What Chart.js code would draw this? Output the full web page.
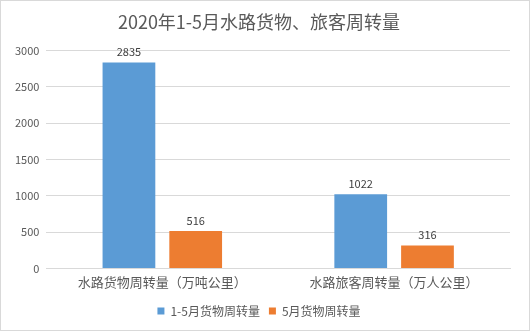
<!DOCTYPE html>
<html>
<head>
<meta charset="utf-8">
<script src="https://cdn.jsdelivr.net/npm/chart.js@4/dist/chart.umd.min.js"></script>
<style>
  html, body { margin: 0; padding: 0; background: #fff; }
  #wrap { width: 528px; height: 329px; border: 1px solid #d9d9d9; position: relative; }
</style>
</head>
<body>
<div id="wrap"><canvas id="chart"></canvas></div>
<script>
// chart data
const categories = ['水路货物周转量（万吨公里）', '水路旅客周转量（万人公里）'];
const seriesNames = ['1-5月货物周转量', '5月货物周转量'];
const totalJanMay = [2835, 1022];
const mayOnly = [516, 316];
const yTicks = [0, 500, 1000, 1500, 2000, 2500, 3000];

const fontFamily = '"Noto Sans CJK SC", "Liberation Sans", sans-serif';

// value labels above each bar
const barLabels = {
  id: 'barLabels',
  afterDatasetsDraw(chart) {
    const ctx = chart.ctx;
    ctx.save();
    ctx.font = '11px ' + fontFamily;
    ctx.fillStyle = '#404040';
    ctx.textAlign = 'center';
    ctx.textBaseline = 'bottom';
    chart.data.datasets.forEach((ds, i) => {
      chart.getDatasetMeta(i).data.forEach((bar, j) => {
        ctx.fillText(ds.data[j], bar.x, bar.y - 5);
      });
    });
    ctx.restore();
  }
};

new Chart(document.getElementById('chart'), {
  type: 'bar',
  data: {
    labels: categories,
    datasets: [
      { label: seriesNames[0], data: totalJanMay, backgroundColor: '#5b9bd5' },
      { label: seriesNames[1], data: mayOnly, backgroundColor: '#ed7d31' }
    ]
  },
  options: {
    responsive: true,
    maintainAspectRatio: false,
    animation: false,
    categoryPercentage: 0.576,
    barPercentage: 0.79,
    layout: { padding: { left: 7, right: 19, top: 4, bottom: 3 } },
    plugins: {
      title: {
        display: true,
        text: '2020年1-5月水路货物、旅客周转量',
        color: '#595959',
        font: { family: fontFamily, size: 18, weight: 'normal' },
        padding: { top: 6, bottom: 18 }
      },
      legend: {
        position: 'bottom',
        labels: {
          boxWidth: 7,
          boxHeight: 7,
          color: '#595959',
          font: { family: fontFamily, size: 12 },
          padding: 9
        }
      },
      tooltip: { enabled: false }
    },
    scales: {
      x: {
        grid: { display: false, drawTicks: false },
        border: { color: '#d9d9d9' },
        ticks: { color: '#595959', font: { family: fontFamily, size: 13 }, padding: 6 }
      },
      y: {
        min: 0,
        max: 3000,
        afterBuildTicks(axis) { axis.ticks = yTicks.map(v => ({ value: v })); },
        grid: { color: '#d9d9d9', drawTicks: false },
        border: { display: false },
        ticks: {
          color: '#595959',
          font: { family: fontFamily, size: 11 },
          padding: 7,
          callback: v => String(v)
        }
      }
    }
  },
  plugins: [barLabels]
});
</script>
</body>
</html>
